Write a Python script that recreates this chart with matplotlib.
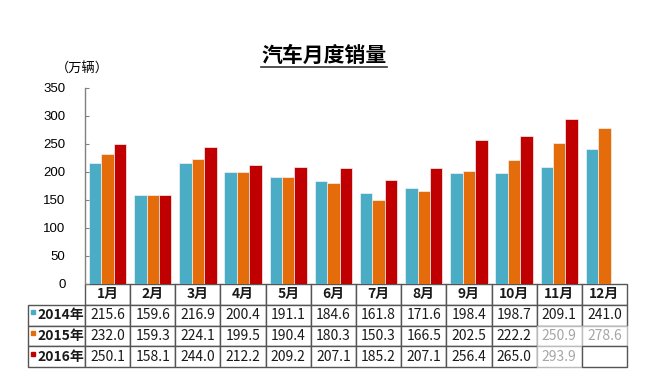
import matplotlib
matplotlib.use('Agg')
import matplotlib.pyplot as plt
from matplotlib.lines import Line2D
import numpy as np

plt.rcParams['font.family'] = ['Noto Sans CJK SC', 'DejaVu Sans']

months = ['1月', '2月', '3月', '4月', '5月', '6月', '7月', '8月', '9月', '10月', '11月', '12月']
series_names = ['2014年', '2015年', '2016年']
sales_2014 = [215.6, 159.6, 216.9, 200.4, 191.1, 184.6, 161.8, 171.6, 198.4, 198.7, 209.1, 241.0]
sales_2015 = [232.0, 159.3, 224.1, 199.5, 190.4, 180.3, 150.3, 166.5, 202.5, 222.2, 250.9, 278.6]
sales_2016 = [250.1, 158.1, 244.0, 212.2, 209.2, 207.1, 185.2, 207.1, 256.4, 265.0, 293.9, np.nan]
colors = ['#4bacc6', '#e46c0a', '#c00000']

W, H = 657, 387
fig = plt.figure(figsize=(W / 100, H / 100), dpi=100)
ax = fig.add_axes([85 / W, 1 - 284 / H, (627 - 85) / W, (284 - 88) / H])

x = np.arange(len(months))
bw = 0.275
all_series = [sales_2014, sales_2015, sales_2016]
for i, (vals, c) in enumerate(zip(all_series, colors)):
    ax.bar(x + (i - 1) * bw, vals, width=bw, color=c, edgecolor='#f2f2f2', linewidth=0.5)

ax.set_xlim(-0.5, len(months) - 0.5)
ax.set_ylim(0, 350)
ax.set_yticks(range(0, 351, 50))
ax.set_xticks([])
for s in ['top', 'right', 'bottom']:
    ax.spines[s].set_visible(False)
ax.spines['left'].set_color('#808080')
ax.spines['left'].set_linewidth(1.0)
ax.tick_params(axis='y', direction='in', length=3, width=0.8, color='#808080', pad=14, labelsize=9.5)
for lab in ax.get_yticklabels():
    lab.set_fontfamily(['Liberation Sans', 'DejaVu Sans'])

# data table under the bars; (row, col) of the washed-out cells
faded = {(2, 11), (2, 12), (3, 11)}
cell_text = [[''] + months]
for name, vals in zip(series_names, all_series):
    row = [name]
    for v in vals:
        row.append('' if np.isnan(v) else f'{v:.1f}')
    cell_text.append(row)

ax_h = 284 - 88
left = (28 - 85) / (627 - 85)
tbl = ax.table(cellText=cell_text, cellLoc='center',
               bbox=[left, -(368 - 285) / ax_h, 1 - left, (368 - 285) / ax_h])
tbl.auto_set_font_size(False)
first_w = (85 - 28) / (627 - 28)
other_w = (1 - first_w) / len(months)
for (r, c), cell in tbl.get_celld().items():
    cell.set_edgecolor('#555555')
    cell.set_linewidth(1.0)
    cell.set_width(first_w if c == 0 else other_w)
    t = cell.get_text()
    t.set_fontsize(10)
    t.set_color('#1a1a1a')
    if r == 0:
        t.set_fontweight('bold')
    if c == 0:
        t.set_fontweight('bold')
        t.set_ha('right')
        cell.PAD = 0.01
    if r == 0 and c == 0:
        cell.visible_edges = ''
    if (r, c) in faded:
        t.set_color('#a6a6a6')
        cell.set_edgecolor('#bbbbbb')

# colored squares for row labels
row_h = (368 - 285) / 4 / ax_h
for i, c in enumerate(colors):
    yy = -(285 - 284) / ax_h - row_h * (i + 1) - row_h * 0.32
    ax.plot([left + 0.009], [yy], marker='s', markersize=3.2, color=c,
            transform=ax.transAxes, clip_on=False)

title = fig.text(0.493, 1 - 55 / H, '汽车月度销量', fontsize=15, fontweight='bold',
                 ha='center', va='center')
fig.text(82 / W, 1 - 69 / H, '（万辆）', fontsize=9.5, ha='center', va='center')

fig.canvas.draw()
bb = title.get_window_extent().transformed(fig.transFigure.inverted())
fig.add_artist(Line2D([bb.x0, bb.x1], [bb.y0 - 0.004, bb.y0 - 0.004],
                      color='#333333', linewidth=1.2, transform=fig.transFigure))

fig.savefig('out.png', dpi=100)
